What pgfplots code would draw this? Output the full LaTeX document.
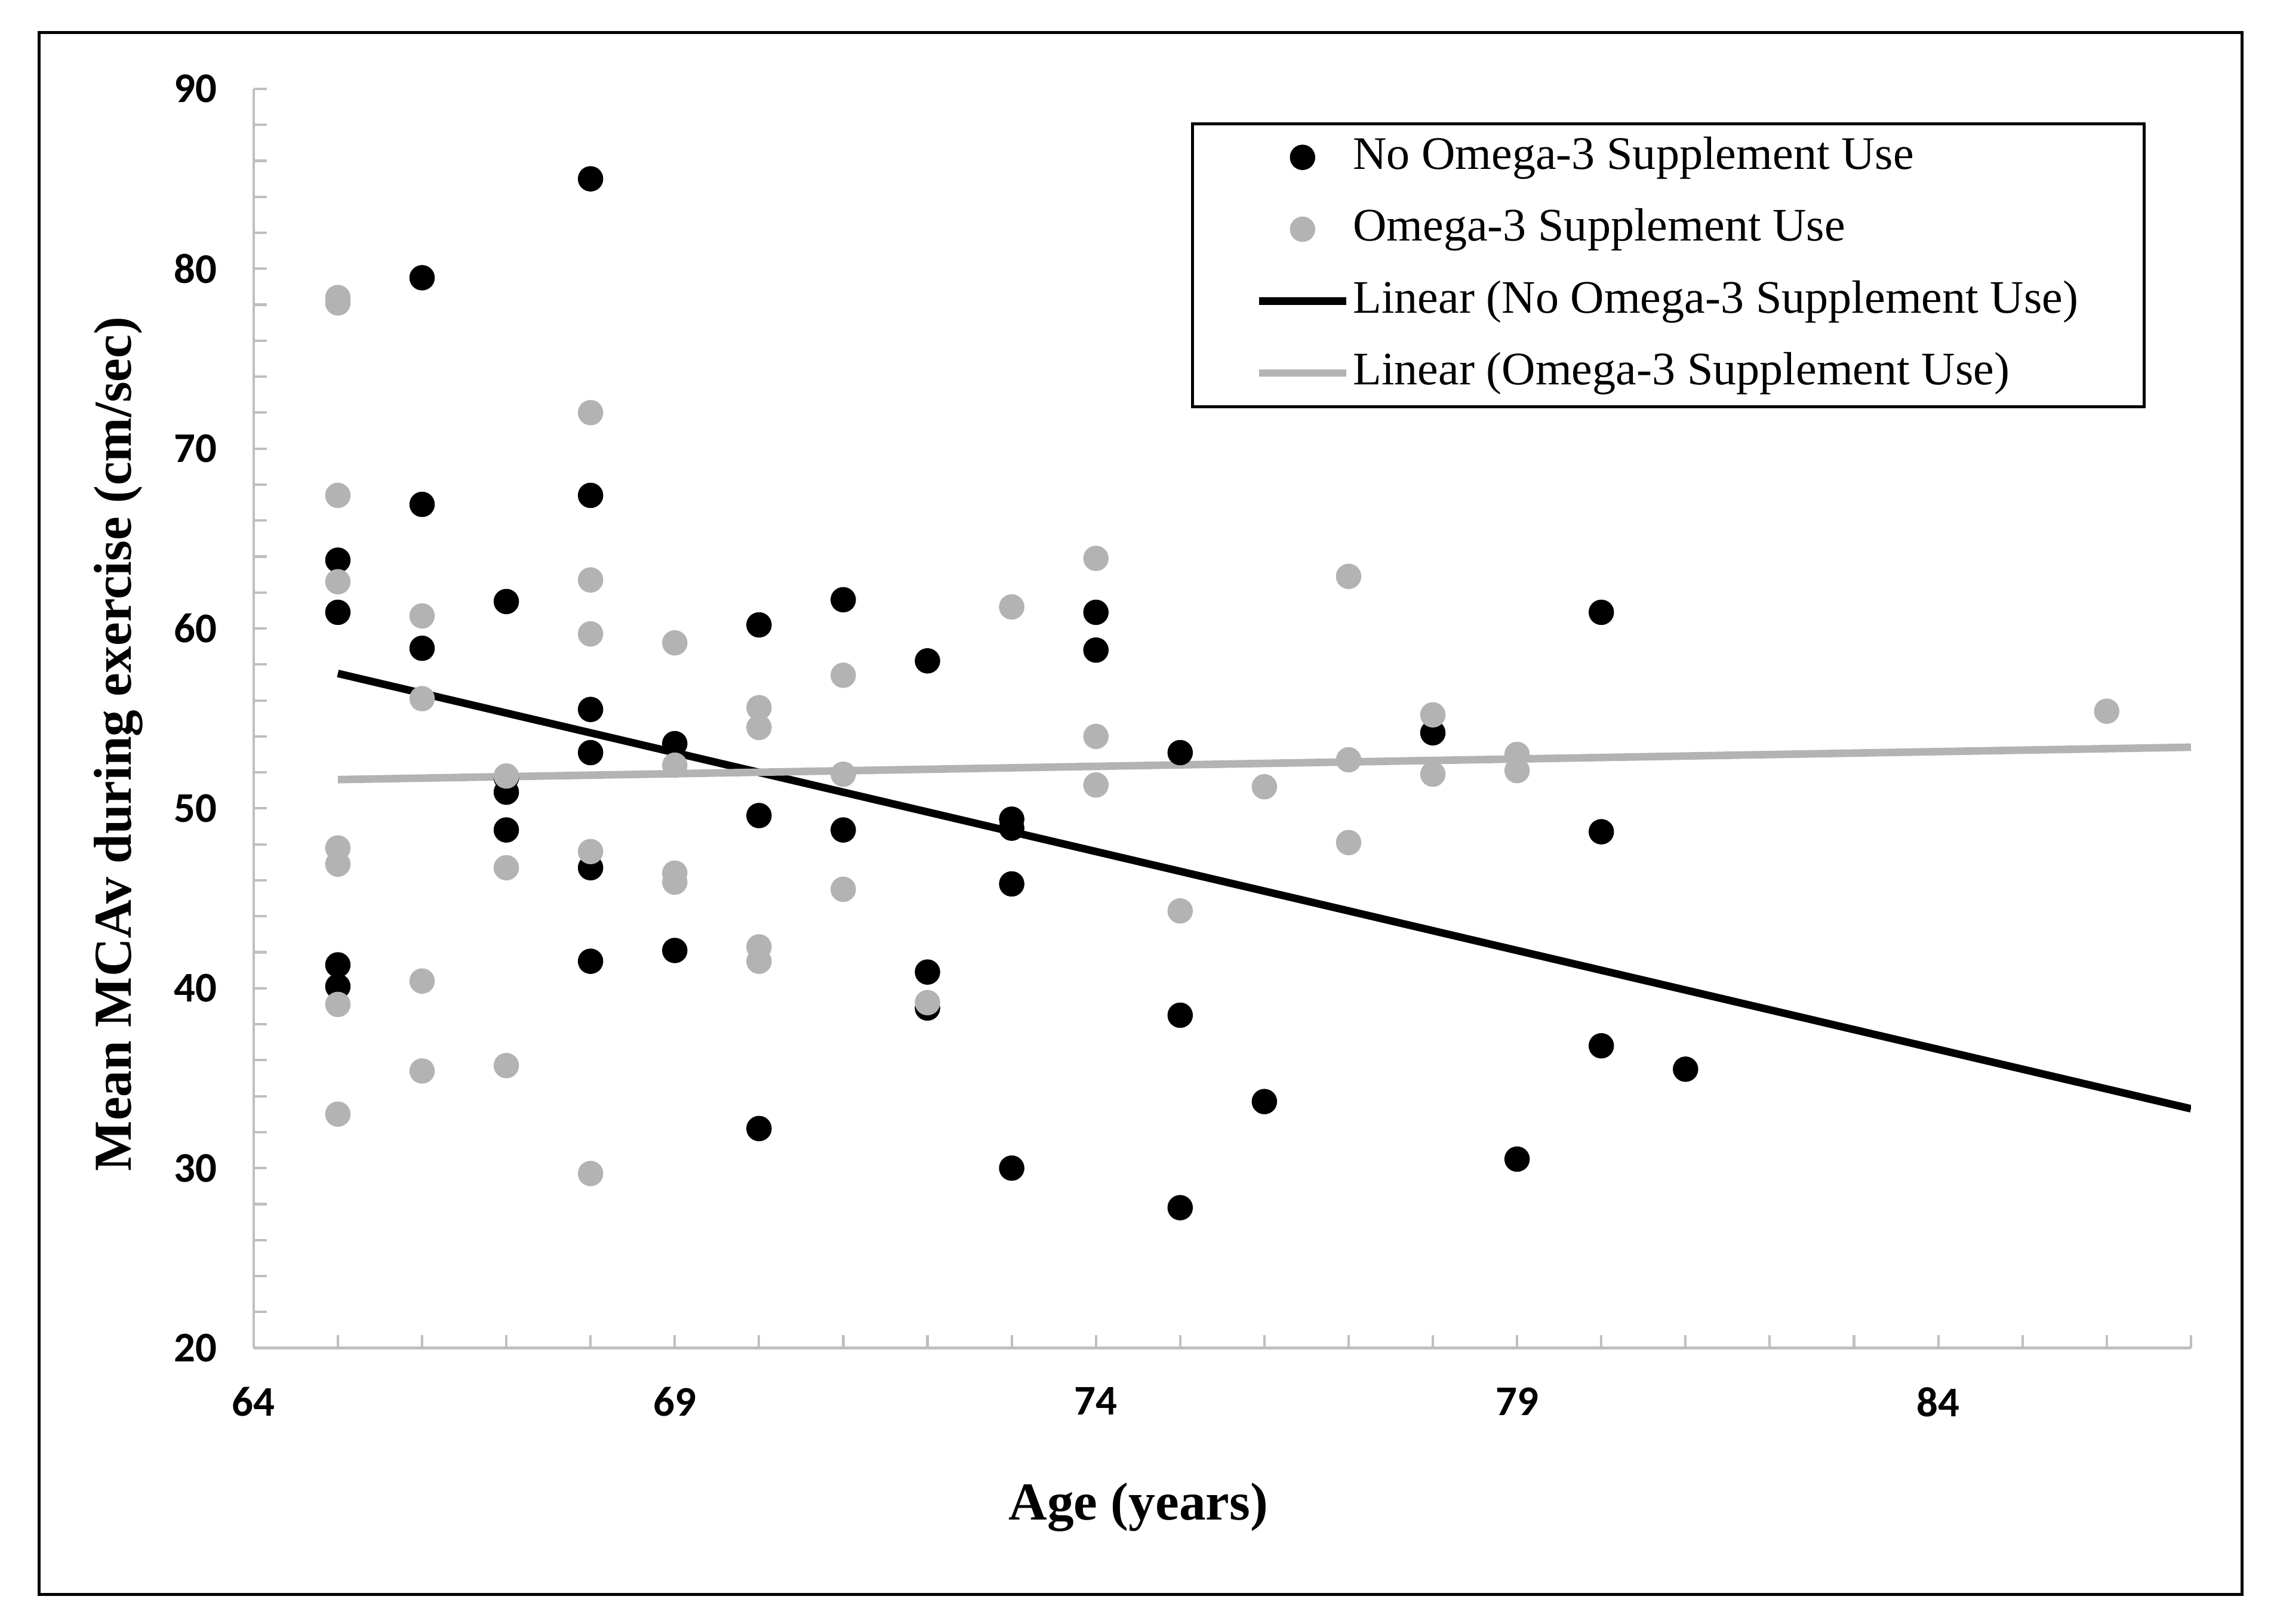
\documentclass[border=0pt]{standalone}
\usepackage{pgfplots}
\pgfplotsset{compat=1.18}
\usepackage{fontspec}
\setmainfont{Liberation Serif}
\newfontfamily\tickfont{Carlito}
\definecolor{ptgray}{RGB}{179,179,179}
\definecolor{axgray}{RGB}{191,191,191}

\begin{document}
\begin{tikzpicture}
\begin{axis}[
  name=ax,
  scale only axis, width=664.5pt, height=432pt,
  xmin=64, xmax=87, ymin=20, ymax=90,
  axis lines*=left,
  axis line style={draw=axgray, line width=0.85pt},
  xtick={64,69,74,79,84}, ytick={20,30,...,90},
  minor xtick={65,...,87}, minor ytick={22,24,...,88},
  tick align=inside, major tick length=4.5pt, minor tick length=4.5pt,
  tick style={draw=axgray, line width=0.85pt},
  tick label style={font=\tickfont\bfseries\fontsize{14.5}{17}\selectfont,
    /pgf/number format/assume math mode=true},
  xticklabel style={yshift=-10pt},
  yticklabel style={xshift=-9pt},
  xlabel={Age (years)},
  ylabel={Mean MCAv during exercise (cm/sec)},
  label style={font=\bfseries\fontsize{18.3}{21}\selectfont},
  xlabel style={at={(axis description cs:0.4567,-0.1366)}, anchor=base},
  ylabel style={at={(axis description cs:-0.0632,0.4797)}, anchor=base},
  legend style={at={(axis description cs:0.4838,0.9734)}, anchor=north west,
    draw=black, line width=1pt, inner xsep=21.5pt, inner ysep=4pt,
    row sep=9.67pt, font=\fontsize{16}{19}\selectfont,
    nodes={inner xsep=1pt, inner ysep=0pt, text height=11.5pt, text depth=3.5pt}},
  legend cell align=left,
  legend image code/.code={\draw[mark repeat=2,mark phase=2,#1]
    plot coordinates {(0pt,0pt)(15pt,0pt)(30pt,0pt)};},
]
% no omega-3
\addplot[only marks, mark=*, mark size=4.25pt, line width=0.2pt,
  mark options={draw=black, fill=black, line width=0.2pt}] coordinates {
  (65,63.8)(65,60.9)(65,41.3)(65,40.1)
  (66,79.5)(66,66.9)(66,58.9)
  (67,61.5)(67,51.7)(67,50.9)(67,48.8)
  (68,85.0)(68,67.4)(68,55.5)(68,53.1)(68,46.7)(68,41.5)
  (69,53.6)(69,42.1)
  (70,60.2)(70,49.6)(70,32.2)
  (71,61.6)(71,48.8)
  (72,58.2)(72,40.9)(72,38.9)
  (73,49.4)(73,48.9)(73,45.8)(73,30.0)
  (74,60.9)(74,58.8)
  (75,53.1)(75,38.5)(75,27.8)
  (76,33.7)
  (78,54.2)
  (79,30.5)
  (80,60.9)(80,48.7)(80,36.8)
  (81,35.5)
};
\addlegendentry{No Omega-3 Supplement Use}
% omega-3
\addplot[only marks, mark=*, mark size=4.25pt, line width=0.2pt,
  mark options={draw=ptgray, fill=ptgray, line width=0.2pt}] coordinates {
  (65,78.4)(65,78.1)(65,67.4)(65,62.6)(65,47.8)(65,46.9)(65,39.1)(65,33.0)
  (66,60.7)(66,56.1)(66,40.4)(66,35.4)
  (67,51.8)(67,46.7)(67,35.7)
  (68,72.0)(68,62.7)(68,59.7)(68,47.6)(68,29.7)
  (69,59.2)(69,52.4)(69,46.4)(69,45.9)
  (70,55.6)(70,54.5)(70,42.3)(70,41.5)
  (71,57.4)(71,51.9)(71,45.5)
  (72,39.2)
  (73,61.2)
  (74,63.9)(74,54.0)(74,51.3)
  (75,44.3)
  (76,51.2)
  (77,62.9)(77,52.7)(77,48.1)
  (78,55.2)(78,51.9)
  (79,53.0)(79,52.1)
  (86,55.4)
};
\addlegendentry{Omega-3 Supplement Use}
% trend lines
\addplot[black, line width=2.6pt, no marks] coordinates {(65,57.5)(87,33.3)};
\addlegendentry{Linear (No Omega-3 Supplement Use)}
\addplot[ptgray, line width=2.6pt, no marks] coordinates {(65,51.6)(87,53.4)};
\addlegendentry{Linear (Omega-3 Supplement Use)}
\end{axis}
\draw[line width=1pt] ([shift={(-73.5pt,-84.5pt)}]ax.south west)
  rectangle ([shift={(17.5pt,19.25pt)}]ax.north east);
\pgfresetboundingbox
\useasboundingbox ([shift={(-87pt,-94.5pt)}]ax.south west)
  rectangle ([shift={(28.5pt,30.5pt)}]ax.north east);
\end{tikzpicture}
\end{document}
